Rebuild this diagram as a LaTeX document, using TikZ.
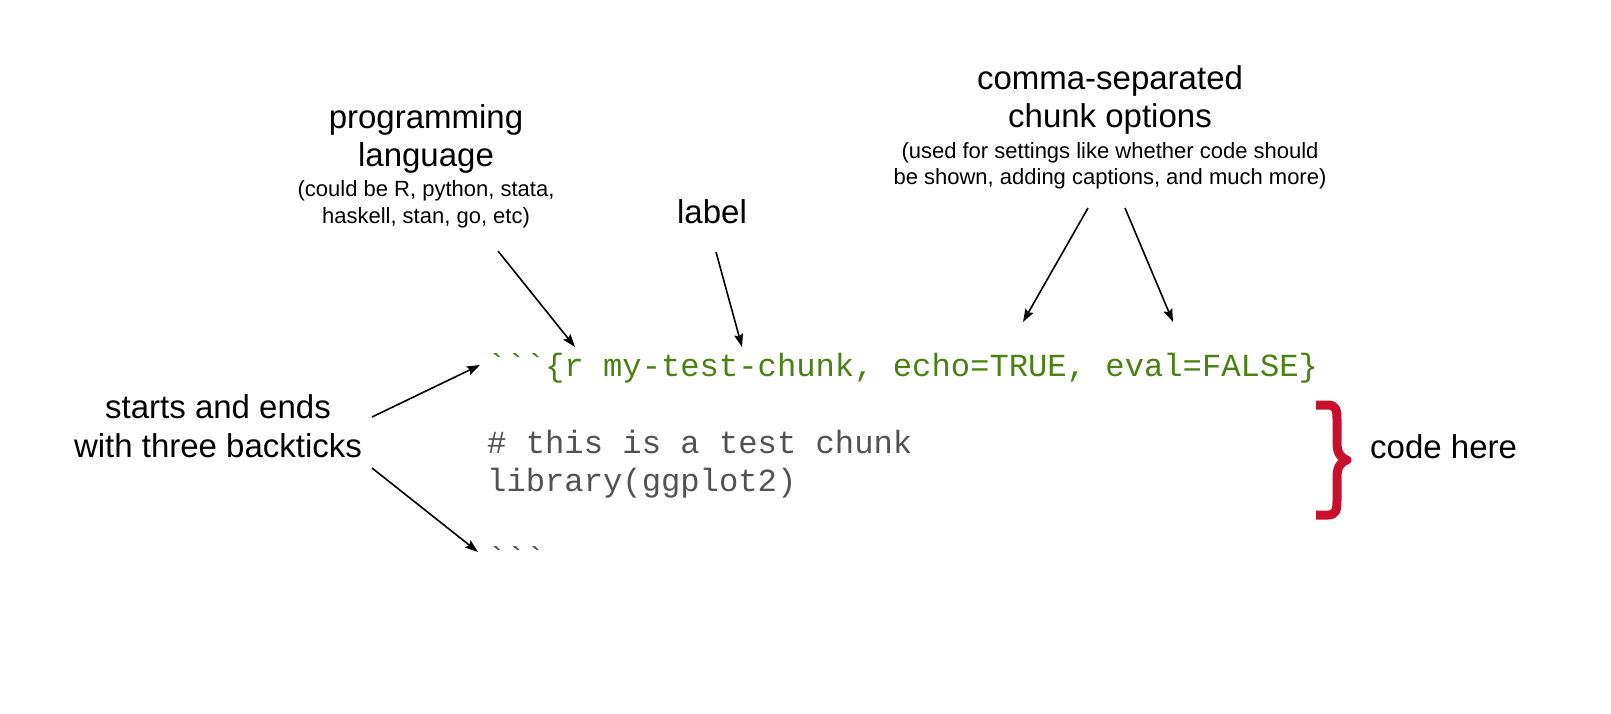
\documentclass[tikz,border=0pt]{standalone}
\usepackage{fontspec}
\setmainfont{Liberation Sans}
\setmonofont{Liberation Mono}
\usetikzlibrary{arrows.meta, positioning}
\definecolor{codegreen}{RGB}{74,130,18}
\definecolor{codegrey}{RGB}{82,82,82}
\definecolor{bracered}{RGB}{200,16,46}
\tikzset{
    bigLabel/.style={anchor=base, align=center, inner sep=0pt, font=\fontsize{33}{38.5}\selectfont},
    smallLabel/.style={anchor=base, align=center, inner sep=0pt, font=\fontsize{22}{26.5}\selectfont},
    codeLine/.style={anchor=base west, inner sep=0pt, font=\ttfamily\fontsize{32.2}{38.6}\selectfont},
    pointer/.style={-{Stealth[length=13pt, width=9pt, inset=2pt]}, line width=1.6pt, black},
    codeBrace/.style={draw=bracered, line width=9pt, line cap=butt, line join=round},
}
\begin{document}
\begin{tikzpicture}[x=1pt, y=-1pt]
        \useasboundingbox (0,0) rectangle (1611,714);

        % labels (y is the baseline of the last line)
        \node[bigLabel] (lang) at (426, 167) {programming\\language};
        \node[smallLabel] (langNote) at (426, 223) {(could be R, python, stata,\\haskell, stan, go, etc)};
        \node[bigLabel] (chunkLabel) at (712, 223) {label};
        \node[bigLabel] (opts) at (1110, 128) {comma-separated\\chunk options};
        \node[smallLabel] (optsNote) at (1110, 185) {(used for settings like whether code should\\be shown, adding captions, and much more)};
        \node[bigLabel] (ticks) at (218, 457) {starts and ends\\with three backticks};
        \node[bigLabel, anchor=base west] (codeHere) at (1370, 458) {code here};

        % the chunk
        \node[codeLine, text=codegreen] (header) at (487, 376) {```\{r my-test-chunk, echo=TRUE, eval=FALSE\}};
        \node[codeLine, text=codegrey] (body1) at (487, 453) {\# this is a test chunk};
        \node[codeLine, text=codegrey] (body2) at (487, 491) {library(ggplot2)};
        \node[codeLine, text=codegrey] (footer) at (487, 569) {```};

        \draw[codeBrace] (1316, 405) -- (1328, 405) .. controls (1336, 405) and (1337, 410) .. (1337, 420)
            -- (1337, 443) .. controls (1337, 452) and (1340, 458) .. (1347, 460)
            .. controls (1340, 462) and (1337, 468) .. (1337, 477)
            -- (1337, 500) .. controls (1337, 510) and (1336, 515) .. (1328, 515) -- (1316, 515);

        % arrow ends
        \coordinate (langFrom) at (498, 251);
        \coordinate (langTo) at (575, 347);
        \coordinate (labelFrom) at (716, 252);
        \coordinate (labelTo) at (742, 347);
        \coordinate (echoFrom) at (1088, 208);
        \coordinate (echoTo) at (1023, 322);
        \coordinate (evalFrom) at (1125, 208);
        \coordinate (evalTo) at (1173, 322);
        \coordinate (openFrom) at (372, 417);
        \coordinate (openTo) at (480, 365);
        \coordinate (closeFrom) at (372, 468);
        \coordinate (closeTo) at (478, 552);

        \draw[pointer] (langFrom) -- (langTo);
        \draw[pointer] (labelFrom) -- (labelTo);
        \draw[pointer] (echoFrom) -- (echoTo);
        \draw[pointer] (evalFrom) -- (evalTo);
        \draw[pointer] (openFrom) -- (openTo);
        \draw[pointer] (closeFrom) -- (closeTo);

    \end{tikzpicture}
\end{document}
